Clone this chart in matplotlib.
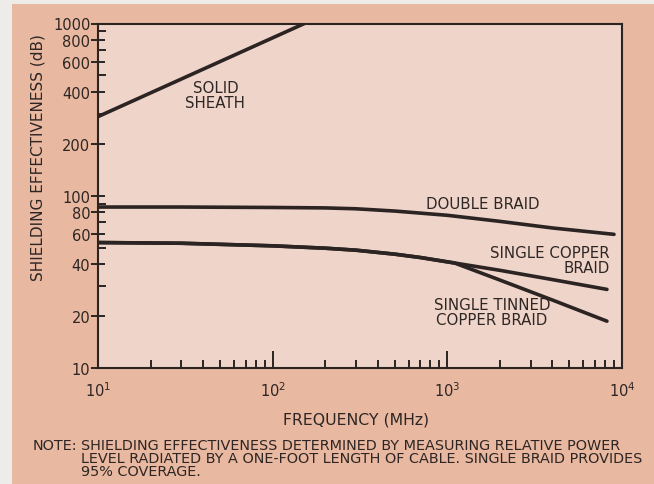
import matplotlib
matplotlib.use("Agg")
import matplotlib.pyplot as plt
from matplotlib.patches import Rectangle
from matplotlib.ticker import FixedLocator, NullFormatter

# Shielding effectiveness (dB) versus frequency (MHz) for several cable shields
solid_sheath_f = [10, 152]
solid_sheath_db = [288, 1000]

double_braid_f = [10, 30, 100, 200, 300, 500, 1000, 2000, 4000, 9000]
double_braid_db = [86, 86, 85.5, 85, 84, 81.5, 77, 71, 65, 59.7]

single_copper_f = [10, 30, 100, 200, 300, 500, 700, 1100, 2000, 4000, 8200]
single_copper_db = [53.5, 53, 51.2, 49.6, 48.3, 45.8, 43.8, 40.7, 36.9, 32.6, 28.6]

single_tinned_f = [10, 30, 100, 200, 300, 500, 700, 1100, 2000, 4000, 8200]
single_tinned_db = [53.5, 53, 51.2, 49.6, 48.3, 45.8, 43.8, 40.7, 32.4, 24.8, 18.7]

y_major = [10, 20, 40, 60, 80, 100, 200, 400, 600, 800, 1000]
y_labels = ["10", "20", "40", "60", "80", "100", "200", "400", "600", "800", "1000"]
y_minor = [30, 50, 70, 90, 300, 500, 700, 900]

x_major = [10, 100, 1000, 10000]
x_labels = [r"$10^{1}$", r"$10^{2}$", r"$10^{3}$", r"$10^{4}$"]
x_minor = [m * d for d in (10, 100, 1000) for m in range(2, 10)]

note_lines = [
    "SHIELDING EFFECTIVENESS DETERMINED BY MEASURING RELATIVE POWER",
    "LEVEL RADIATED BY A ONE-FOOT LENGTH OF CABLE. SINGLE BRAID PROVIDES",
    "95% COVERAGE.",
]

outer_bg = "#E8B8A1"
inner_bg = "#EFD4C9"
ink = "#2B2422"
text_ink = "#2E2624"

W, H = 654, 485
fig = plt.figure(figsize=(W / 100, H / 100), dpi=100, facecolor=outer_bg)
# pale page margin along the left and top edges
fig.patches.append(Rectangle((0, 0), 12 / W, 1, transform=fig.transFigure,
                             facecolor="#EDECE8", edgecolor="none", zorder=0))
fig.patches.append(Rectangle((0, 1 - 5 / H), 1, 5 / H, transform=fig.transFigure,
                             facecolor="#EDECE8", edgecolor="none", zorder=0))

ax = fig.add_axes([98 / W, 1 - 369 / H, (622 - 98) / W, (369 - 24.5) / H])
ax.set_facecolor(inner_bg)
ax.set_xscale("log")
ax.set_yscale("log")
ax.set_xlim(10, 10000)
ax.set_ylim(10, 1000)

lw = 2.6
ax.plot(solid_sheath_f, solid_sheath_db, color=ink, lw=lw, solid_capstyle="butt")
ax.plot(double_braid_f, double_braid_db, color=ink, lw=lw, solid_capstyle="round",
        solid_joinstyle="round")
ax.plot(single_copper_f, single_copper_db, color=ink, lw=lw, solid_capstyle="round",
        solid_joinstyle="round")
ax.plot(single_tinned_f, single_tinned_db, color=ink, lw=lw, solid_capstyle="round",
        solid_joinstyle="round")

for s in ax.spines.values():
    s.set_color(ink)
    s.set_linewidth(1.5)

ax.yaxis.set_major_locator(FixedLocator(y_major))
ax.set_yticklabels(y_labels)
ax.yaxis.set_minor_locator(FixedLocator(y_minor))
ax.yaxis.set_minor_formatter(NullFormatter())
ax.xaxis.set_major_locator(FixedLocator(x_major))
ax.set_xticklabels(x_labels)
ax.xaxis.set_minor_locator(FixedLocator(x_minor))
ax.xaxis.set_minor_formatter(NullFormatter())

ax.tick_params(axis="y", which="major", direction="inout", length=10, width=1.4,
               color=ink, labelsize=10.5, labelcolor=text_ink, pad=0.5)
ax.tick_params(axis="y", which="minor", direction="in", length=5.5, width=1.4, color=ink)
ax.tick_params(axis="x", which="major", direction="in", length=12, width=1.4,
               color=ink, labelsize=10.5, labelcolor=text_ink, pad=9)
ax.tick_params(axis="x", which="minor", direction="in", length=5.5, width=1.4, color=ink)

fs = 10.8
ax.text(47, 385, "SOLID\nSHEATH", ha="center", va="center", fontsize=fs,
        color=text_ink, linespacing=1.0)
ax.text(1600, 90.5, "DOUBLE BRAID", ha="center", va="center", fontsize=fs, color=text_ink)
ax.text(8530, 42.3, "SINGLE COPPER\nBRAID", ha="right", va="center", fontsize=fs,
        color=text_ink, linespacing=1.0, multialignment="right")
ax.text(1800, 21.0, "SINGLE TINNED\nCOPPER BRAID", ha="center", va="center",
        fontsize=fs, color=text_ink, linespacing=1.0)

fig.text(38 / W, 1 - 158 / H, "SHIELDING EFFECTIVENESS (dB)", rotation=90,
         ha="center", va="center", fontsize=11, color=text_ink)
fig.text(356 / W, 1 - 420 / H, "FREQUENCY (MHz)", ha="center", va="center",
         fontsize=11.3, color=text_ink)

note_fs = 10.4
fig.text(33 / W, 1 - 446 / H, "NOTE:", ha="left", va="center", fontsize=note_fs,
         color=text_ink)
for i, line in enumerate(note_lines):
    fig.text(81 / W, 1 - (446 + 12.8 * i) / H, line, ha="left", va="center",
             fontsize=note_fs, color=text_ink)

fig.savefig("out.png", dpi=100, facecolor=fig.get_facecolor())
